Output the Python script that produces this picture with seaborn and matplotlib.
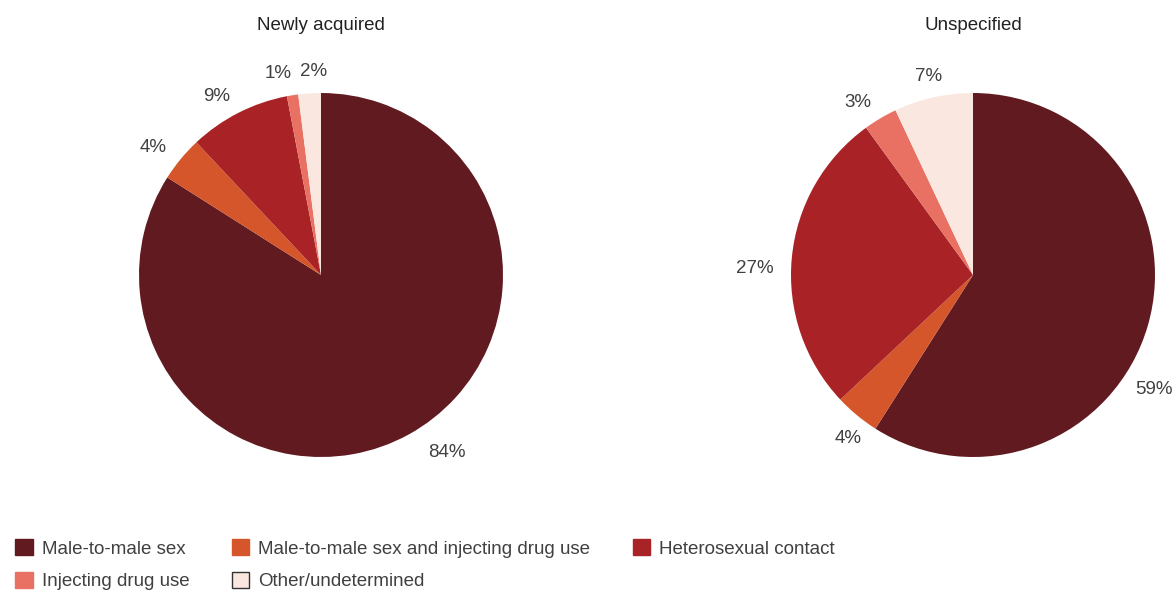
import matplotlib
matplotlib.use("Agg")
import matplotlib.pyplot as plt
from matplotlib.patches import Patch
import numpy as np
import seaborn as sns

# ---------------- data ----------------
categories = ["Male-to-male sex", "Male-to-male sex and injecting drug use",
              "Heterosexual contact", "Injecting drug use", "Other/undetermined"]
newly_acquired = [84, 4, 9, 1, 2]
unspecified = [59, 4, 27, 3, 7]
titles = ["Newly acquired", "Unspecified"]
colors = ["#611a1f", "#d4562a", "#a82226", "#e87163", "#fae8e0"]

sns.set_theme(style="white")
plt.rcParams["font.family"] = ["Liberation Sans", "DejaVu Sans"]
text_col = "#404040"
fs = 13.5

fig = plt.figure(figsize=(11.75, 5.92), dpi=100)

# pie centres in pixels (x from left, y from bottom), radius in pixels
centres = [(321, 317), (973, 317)]
radius_px = 182
lim = 1.3
size_px = 2 * lim * radius_px

# small nudges (in pie radii) so labels don't collide, like the original
nudges = [
    {0: (0.06, -0.01), 3: (-0.06, 0.0), 4: (0.03, 0.0)},
    {1: (0.09, -0.05), 2: (0.0, -0.07)},
]

for k, ((cx, cy), vals, title) in enumerate(zip(centres, [newly_acquired, unspecified], titles)):
    ax = fig.add_axes([(cx - size_px / 2) / 1175, (cy - size_px / 2) / 592,
                       size_px / 1175, size_px / 592])
    wedges, texts, autotexts = ax.pie(
        vals, colors=colors, startangle=90, counterclock=False,
        autopct=lambda p: f"{p:.0f}%", pctdistance=1.12,
        wedgeprops=dict(linewidth=0))
    for w, t in zip(wedges, autotexts):
        t.set_fontsize(fs)
        t.set_color(text_col)
        ang = np.deg2rad((w.theta1 + w.theta2) / 2)
        sx, sy = np.cos(ang), np.sin(ang)
        if abs(sx) >= 0.25:
            # side labels are aligned towards the pie
            t.set_position((1.1 * sx, 1.1 * sy))
            t.set_ha("left" if sx > 0 else "right")
    for i, (dx, dy) in nudges[k].items():
        x, y = autotexts[i].get_position()
        autotexts[i].set_position((x + dx, y + dy))
    if k == 1:
        # label pushed down along the rim to stay inside the chart
        autotexts[0].set_position((1.1, -0.63))
        autotexts[0].set_ha("right")
    ax.set_xlim(-lim, lim)
    ax.set_ylim(-lim, lim)
    ax.set_aspect("equal")
    ax.axis("off")
    fig.text(cx / 1175, 1 - 25 / 592, title, ha="center", va="center",
             fontsize=fs, color="#222222")

# legend: column-major order so rows read left to right
order = [0, 3, 1, 4, 2]
handles = []
for i in order:
    ec = "#333333" if i == 4 else colors[i]
    handles.append(Patch(facecolor=colors[i], edgecolor=ec, linewidth=1.0,
                         label=categories[i]))
fig.legend(handles=handles, ncol=3, loc="upper left",
           bbox_to_anchor=(15 / 1175, 1 - 539 / 592), frameon=False,
           fontsize=fs, handlelength=0.95, handleheight=0.95,
           handletextpad=0.48, columnspacing=2.25, labelspacing=0.76,
           borderpad=0, borderaxespad=0, labelcolor=text_col)

fig.savefig("out.png", dpi=100)
